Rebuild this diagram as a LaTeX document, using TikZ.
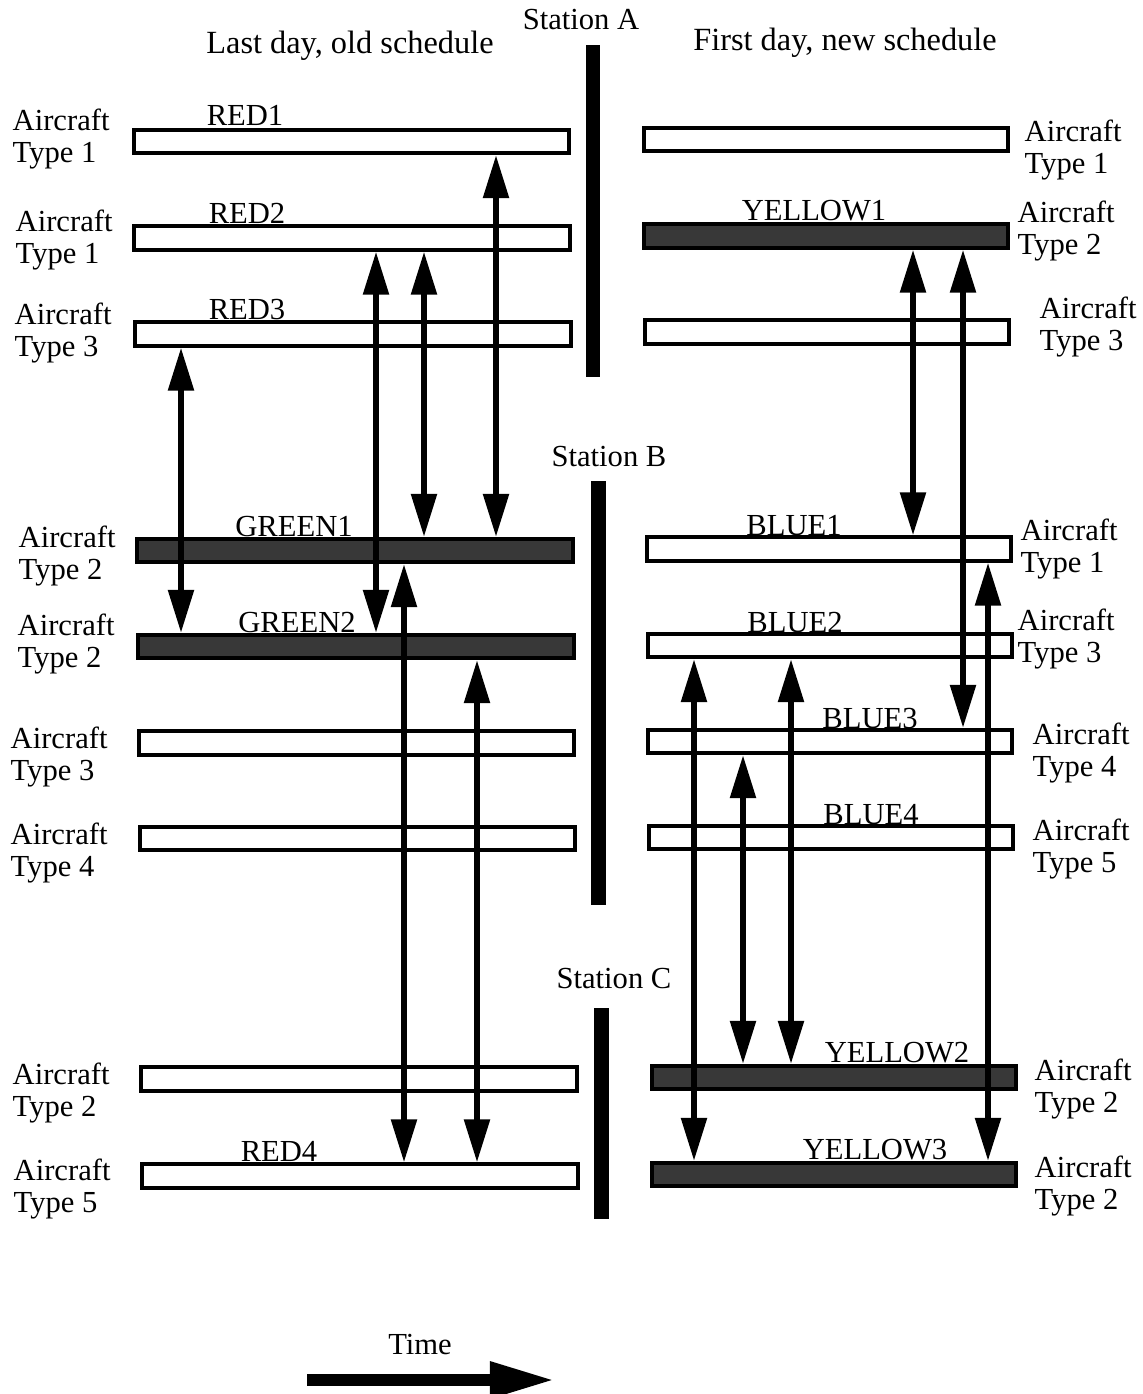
\documentclass[tikz,border=0pt]{standalone}
\usepackage{fontspec}
\setmainfont{Liberation Serif}
\usetikzlibrary{arrows.meta}

\begin{document}
\begin{tikzpicture}[
  x=0.01cm, y=-0.01cm,
  every node/.style={font=\fontsize{8.7}{9.1}\selectfont},
  bar/.style={rectangle, draw, line width=1.1pt, fill=white, inner sep=0pt,
              minimum height=2.35mm},
  oldbar/.style={bar, minimum width=4.35cm},
  newbar/.style={bar, minimum width=3.64cm},
  shaded/.style={fill=black!78},
  tag/.style={anchor=base, inner sep=0pt},
  head/.style={tag, font=\fontsize{9.2}{10}\selectfont},
  actype/.style={anchor=west, align=left, inner sep=0pt},
  link/.style={line width=1.6pt,
               {Triangle[length=4.3mm,width=2.5mm]}-{Triangle[length=4.3mm,width=2.5mm]}},
  timearrow/.style={line width=1.2mm, -{Triangle[length=6.5mm,width=3.4mm]}}
]
  \useasboundingbox (0,0) rectangle (1143,1394);

  % headings and stations
  \node[head] (hold) at (350,54) {Last day, old schedule};
  \node[head] (hnew) at (845,51) {First day, new schedule};
  \node[tag] (labA) at (581,30) {Station A};
  \node[tag] (labB) at (609,466) {Station B};
  \node[tag] (labC) at (614,988) {Station C};
  \fill (586,45) rectangle (600,377);
  \fill (591,481) rectangle (606,905);
  \fill (594,1008) rectangle (609,1219);

  % last day, old schedule
  \node[oldbar] (red1) at (351.5,141.5) {};
  \node[oldbar] (red2) at (352,238) {};
  \node[oldbar] (red3) at (353,334) {};
  \node[oldbar,shaded] (green1) at (355,550.5) {};
  \node[oldbar,shaded] (green2) at (356,646.5) {};
  \node[oldbar] (oldB3) at (356.5,743) {};
  \node[oldbar] (oldB4) at (357.5,838.5) {};
  \node[oldbar] (oldC2) at (359,1079) {};
  \node[oldbar] (red4) at (360,1176) {};

  \node[tag] (tred1) at (245,126) {RED1};
  \node[tag] (tred2) at (247,224) {RED2};
  \node[tag] (tred3) at (247,319) {RED3};
  \node[tag] (tgreen1) at (294,536) {GREEN1};
  \node[tag] (tgreen2) at (297,632) {GREEN2};
  \node[tag] (tred4) at (279,1161) {RED4};

  \node[actype] (l1) at (12,139) {Aircraft\\Type 1};
  \node[actype] (l2) at (15,240) {Aircraft\\Type 1};
  \node[actype] (l3) at (14,333) {Aircraft\\Type 3};
  \node[actype] (l4) at (18,556) {Aircraft\\Type 2};
  \node[actype] (l5) at (17,644) {Aircraft\\Type 2};
  \node[actype] (l6) at (10,757) {Aircraft\\Type 3};
  \node[actype] (l7) at (10,853) {Aircraft\\Type 4};
  \node[actype] (l8) at (12,1093) {Aircraft\\Type 2};
  \node[actype] (l9) at (13,1189) {Aircraft\\Type 5};

  % first day, new schedule
  \node[newbar] (newA1) at (826,139.5) {};
  \node[newbar,shaded] (yellow1) at (826,236) {};
  \node[newbar] (newA3) at (827,332) {};
  \node[newbar] (blue1) at (829,549) {};
  \node[newbar] (blue2) at (830,645.5) {};
  \node[newbar] (blue3) at (830,741.5) {};
  \node[newbar] (blue4) at (831,837.5) {};
  \node[newbar,shaded] (yellow2) at (834,1077.5) {};
  \node[newbar,shaded] (yellow3) at (834,1174.5) {};

  \node[tag] (tyellow1) at (814,220) {YELLOW1};
  \node[tag] (tblue1) at (794,535) {BLUE1};
  \node[tag] (tblue2) at (795,632) {BLUE2};
  \node[tag] (tblue3) at (870,728) {BLUE3};
  \node[tag] (tblue4) at (871,824) {BLUE4};
  \node[tag] (tyellow2) at (897,1062) {YELLOW2};
  \node[tag] (tyellow3) at (875,1159) {YELLOW3};

  \node[actype] (r1) at (1024,150) {Aircraft\\Type 1};
  \node[actype] (r2) at (1017,231) {Aircraft\\Type 2};
  \node[actype] (r3) at (1039,327) {Aircraft\\Type 3};
  \node[actype] (r4) at (1020,549) {Aircraft\\Type 1};
  \node[actype] (r5) at (1017,639) {Aircraft\\Type 3};
  \node[actype] (r6) at (1032,753) {Aircraft\\Type 4};
  \node[actype] (r7) at (1032,849) {Aircraft\\Type 5};
  \node[actype] (r8) at (1034,1089) {Aircraft\\Type 2};
  \node[actype] (r9) at (1034,1186) {Aircraft\\Type 2};

  % connections
  \draw[link] (red1.south -| 496,0) -- (green1.north -| 496,0);
  \draw[link] (red2.south -| 376,0) -- (green2.north -| 376,0);
  \draw[link] (red2.south -| 424,0) -- (green1.north -| 424,0);
  \draw[link] (red3.south -| 181,0) -- (green2.north -| 181,0);
  \draw[link] (green1.south -| 404,0) -- (red4.north -| 404,0);
  \draw[link] (green2.south -| 477,0) -- (red4.north -| 477,0);
  \draw[link] (yellow1.south -| 913,0) -- (blue1.north -| 913,0);
  \draw[link] (yellow1.south -| 963,0) -- (blue3.north -| 963,0);
  \draw[link] (blue1.south -| 988,0) -- (yellow3.north -| 988,0);
  \draw[link] (blue2.south -| 694,0) -- (yellow3.north -| 694,0);
  \draw[link] (blue2.south -| 791,0) -- (yellow2.north -| 791,0);
  \draw[link] (blue3.south -| 743,0) -- (yellow2.north -| 743,0);

  % time axis
  \node[tag] (time) at (420,1354) {Time};
  \coordinate (t0) at (307,1380);
  \coordinate (t1) at (555,1380);
  \draw[timearrow] (t0) -- (t1);
\end{tikzpicture}
\end{document}
